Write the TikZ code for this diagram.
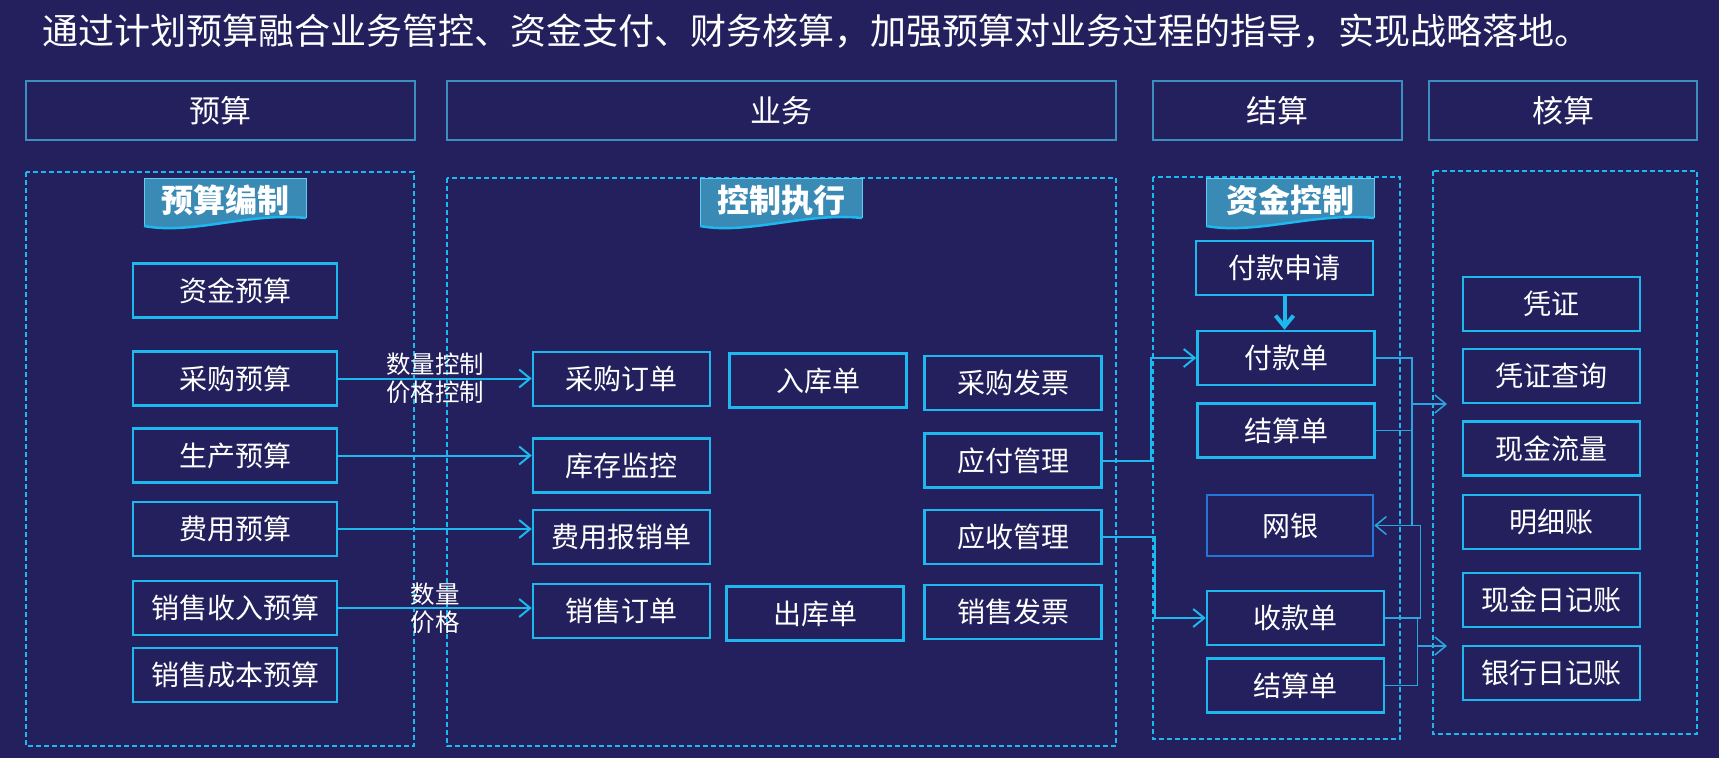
\documentclass[tikz,border=0pt]{standalone}
\usepackage{fontspec}
\newfontfamily\cjk{Noto Sans CJK SC}
\usetikzlibrary{arrows.meta}
\definecolor{bgcol}{HTML}{24205E}
\definecolor{cyanline}{HTML}{1DB8EE}
\definecolor{thincol}{HTML}{2AA6DE}
\definecolor{headline}{HTML}{3A8FBF}
\definecolor{bannerfill}{HTML}{3A8AB6}
\definecolor{wyline}{HTML}{2376D8}
\tikzstyle{box} = [rectangle, draw=cyanline, line width=2.5pt, fill=bgcol, minimum width=177pt, minimum height=54pt, text=white, font=\cjk\fontsize{28}{28}\selectfont]
\tikzstyle{head} = [rectangle, draw=headline, line width=2pt, minimum height=59pt, text=white, font=\cjk\fontsize{31}{31}\selectfont]
\tikzstyle{dashbox} = [draw=cyanline, line width=2pt, dash pattern=on 5pt off 3pt]
\tikzstyle{lbl} = [text=white, align=center, inner sep=0pt, font=\cjk\fontsize{24.5}{28}\selectfont]
\tikzstyle{arrow} = [draw=cyanline, line width=2pt, -{Straight Barb[length=11pt,width=18pt]}]
\tikzstyle{thinline} = [draw=thincol, line width=1.5pt]
\tikzstyle{thinarrow} = [thinline, -{Straight Barb[length=11pt,width=18pt]}]
\begin{document}
\begin{tikzpicture}[x=1pt, y=-1pt]

\fill[bgcol] (0,0) rectangle (1719,758);
\useasboundingbox (0,0) rectangle (1719,758);

\node (title) [anchor=west, inner sep=0pt, text=white, font=\cjk\fontsize{36}{36}\selectfont] at (42,31) {通过计划预算融合业务管控、资金支付、财务核算，加强预算对业务过程的指导，实现战略落地。};

% column heads
\node (hys) [head, minimum width=389pt] at (220.5,110.5) {预算};
\node (hyw) [head, minimum width=669pt] at (781.5,110.5) {业务};
\node (hjs) [head, minimum width=249pt] at (1277.5,110.5) {结算};
\node (hhs) [head, minimum width=268pt] at (1563,110.5) {核算};

% dashed areas
\draw[dashbox] (26,172) rectangle (414,746);
\draw[dashbox] (447,178) rectangle (1116,746);
\draw[dashbox] (1153,177) rectangle (1400,739);
\draw[dashbox] (1433,171) rectangle (1697,734);

% banners
\foreach \cx/\hw/\nm/\txt in {225/81/bzb/预算编制, 781/81/kzzx/控制执行, 1290/84/zjkz/资金控制}{
  \begin{scope}[shift={(\cx,0)}]
    \fill[bannerfill] (-\hw,178) -- (\hw,178) -- (\hw,218) .. controls (0.3*\hw,212) and (-0.4*\hw,235) .. (-\hw,226) -- cycle;
    \draw[cyanline!70, line width=1pt] (-\hw,226) -- (-\hw,178) -- (\hw,178) -- (\hw,218);
    \draw[cyanline, line width=2.5pt] (\hw,218) .. controls (0.3*\hw,212) and (-0.4*\hw,235) .. (-\hw,226);
    \node (\nm) [text=white, font=\cjk\bfseries\fontsize{32}{32}\selectfont] at (0,200) {\txt};
  \end{scope}
}

% budget
\node (zjys) [box, minimum width=204pt] at (235,290.5) {资金预算};
\node (cgys) [box, minimum width=204pt] at (235,378.5) {采购预算};
\node (scys) [box, minimum width=204pt] at (235,455.5) {生产预算};
\node (fyys) [box, minimum width=204pt] at (235,529) {费用预算};
\node (xssr) [box, minimum width=204pt] at (235,608) {销售收入预算};
\node (xscb) [box, minimum width=204pt] at (235,675) {销售成本预算};

% business
\node (cgdd) [box] at (621.5,379) {采购订单};
\node (kcjk) [box] at (621.5,465.5) {库存监控};
\node (fybx) [box] at (621.5,537) {费用报销单};
\node (xsdd) [box] at (621.5,611) {销售订单};
\node (rkd) [box] at (818,380.5) {入库单};
\node (ckd) [box] at (815,613.5) {出库单};
\node (cgfp) [box] at (1013,383) {采购发票};
\node (yfgl) [box] at (1013,460.5) {应付管理};
\node (ysgl) [box] at (1013,537) {应收管理};
\node (xsfp) [box] at (1013,612) {销售发票};

% settlement
\node (fksq) [box] at (1284.5,268) {付款申请};
\node (fkd) [box] at (1286,358) {付款单};
\node (jsd1) [box] at (1286,430.5) {结算单};
\node (wy) [box, draw=wyline, minimum width=166pt, minimum height=61pt] at (1290,525.5) {网银};
\node (skd) [box] at (1295.5,618) {收款单};
\node (jsd2) [box] at (1295.5,685.5) {结算单};

% accounting
\node (pz) [box] at (1551.5,304) {凭证};
\node (pzcx) [box] at (1551.5,376) {凭证查询};
\node (xjll) [box] at (1551.5,448.5) {现金流量};
\node (mxz) [box] at (1551.5,522) {明细账};
\node (xjrj) [box] at (1551.5,600) {现金日记账};
\node (yhrj) [box] at (1551.5,673) {银行日记账};

\coordinate (hs1) at (1447,404);
\coordinate (hs2) at (1447,646);

% Arrows
\draw [arrow] (cgys.east) -- node[lbl] {数量控制\\价格控制} (cgys.east -| cgdd.west);
\draw [arrow] (scys.east) -- (scys.east -| kcjk.west);
\draw [arrow] (fyys.east) -- (fyys.east -| fybx.west);
\draw [arrow] (xssr.east) -- node[lbl] {数量\\价格} (xssr.east -| xsdd.west);
\draw [arrow] (yfgl.east) -- ++(48,0) |- (fkd.west);
\draw [arrow] (ysgl.east) -- ++(52,0) |- (skd.west);
\draw [arrow, line width=4pt] (fksq.south) -- (fksq.south |- fkd.north);
\draw [thinline] (fkd.east) -- ++(36,0) coordinate (m1) |- (jsd1.east);
\draw [thinline] (m1 |- jsd1.east) -- (m1 |- wy.east);
\draw [thinarrow] (m1 |- hs1) -- (hs1);
\draw [thinarrow] (skd.east) -- ++(35,0) |- (wy.east);
\draw [thinline] (skd.east) -- ++(32,0) coordinate (m2) |- (jsd2.east);
\draw [thinarrow] (m2 |- hs2) -- (hs2);

\end{tikzpicture}
\end{document}
